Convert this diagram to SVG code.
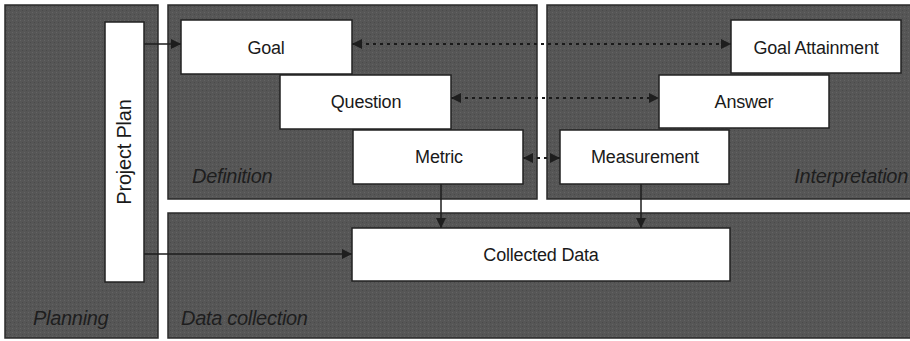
<svg xmlns="http://www.w3.org/2000/svg" width="910" height="341" viewBox="0 0 910 341">
<defs>
<marker id="ah" viewBox="0 0 10 10" refX="10" refY="5" markerWidth="10" markerHeight="10" markerUnits="userSpaceOnUse" orient="auto-start-reverse">
<path d="M0,0 L10,5 L0,10 z" fill="#1e1e1e"/>
</marker>
<pattern id="tex" width="4" height="4" patternUnits="userSpaceOnUse">
<rect width="4" height="4" fill="#565656"/>
<rect x="0" y="0" width="1" height="1" fill="#646464"/>
<rect x="2" y="2" width="1" height="1" fill="#4a4a4a"/>
</pattern>
</defs>
<style>
.panel{fill:url(#tex);stroke:#2a2a2a;stroke-width:1.5}
.box{fill:#ffffff;stroke:#222222;stroke-width:1.5}
.t{font-family:"Liberation Sans",Arial,sans-serif;font-size:18px;fill:#1a1a1a;text-anchor:middle;letter-spacing:-0.2px}
.pp{font-size:20px}
.lbl{font-family:"Liberation Sans",Arial,sans-serif;font-size:20px;font-style:italic;fill:#1e1e1e;letter-spacing:-0.3px}
.ln{stroke:#1e1e1e;stroke-width:1.5;fill:none}
.dot{stroke:#1a1a1a;stroke-width:2;fill:none;stroke-dasharray:3 4}
</style>
<rect width="910" height="341" fill="#ffffff"/>
<g id="panels">
<rect id="planning" class="panel" x="5" y="5" width="153" height="333"/>
<rect id="definition" class="panel" x="168" y="5" width="369" height="194"/>
<rect id="interpretation" class="panel" x="547" y="5" width="366" height="194"/>
<rect id="datacollection" class="panel" x="168" y="213" width="745" height="125"/>
<text class="lbl" x="33" y="325">Planning</text>
<text class="lbl" x="181" y="325">Data collection</text>
<text class="lbl" x="192" y="183">Definition</text>
<text class="lbl" x="908" y="183" text-anchor="end">Interpretation</text>
</g>
<g id="connectors">
<line class="ln" x1="144" y1="44" x2="181" y2="44" marker-end="url(#ah)"/>
<line class="ln" x1="144" y1="254" x2="352" y2="254" marker-end="url(#ah)"/>
<line class="ln" x1="441" y1="184" x2="441" y2="228" marker-end="url(#ah)"/>
<line class="ln" x1="641" y1="184" x2="641" y2="228" marker-end="url(#ah)"/>
<line class="dot" x1="352" y1="44" x2="731" y2="44" marker-start="url(#ah)" marker-end="url(#ah)"/>
<line class="dot" x1="451" y1="98" x2="659" y2="98" marker-start="url(#ah)" marker-end="url(#ah)"/>
<line class="dot" x1="523" y1="158" x2="560" y2="158" marker-start="url(#ah)" marker-end="url(#ah)"/>
</g>
<g id="projectplan">
<rect class="box" x="105" y="22" width="39" height="260"/>
<text class="t pp" transform="translate(131,152) rotate(-90)" x="0" y="0">Project Plan</text>
</g>
<g id="goal">
<rect class="box" x="181" y="20" width="171" height="54"/>
<text class="t" x="266" y="54">Goal</text>
</g>
<g id="question">
<rect class="box" x="280" y="75" width="171" height="54"/>
<text class="t" x="366" y="108">Question</text>
</g>
<g id="metric">
<rect class="box" x="353" y="130" width="170" height="54"/>
<text class="t" x="439" y="163">Metric</text>
</g>
<g id="measurement">
<rect class="box" x="560" y="130" width="169" height="54"/>
<text class="t" x="645" y="163">Measurement</text>
</g>
<g id="answer">
<rect class="box" x="659" y="75" width="170" height="53"/>
<text class="t" x="744" y="108">Answer</text>
</g>
<g id="goalattainment">
<rect class="box" x="731" y="20" width="170" height="53"/>
<text class="t" x="816" y="54">Goal Attainment</text>
</g>
<g id="collecteddata">
<rect class="box" x="352" y="228" width="378" height="53"/>
<text class="t" x="541" y="261">Collected Data</text>
</g>
</svg>
